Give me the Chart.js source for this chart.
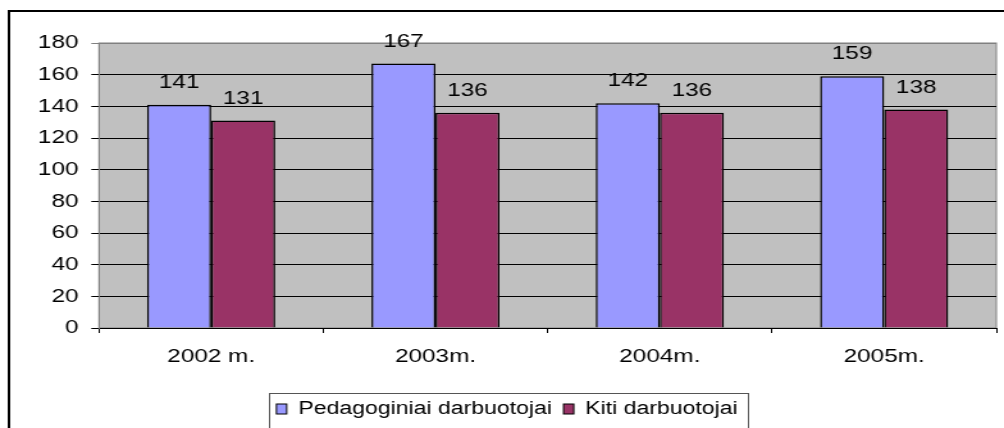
<!DOCTYPE html>
<html><head><meta charset="utf-8">
<script src="https://cdn.jsdelivr.net/npm/chart.js@4/dist/chart.umd.min.js"></script>
<style>html,body{margin:0;padding:0;background:#fff;overflow:hidden}
canvas{display:block}</style></head>
<body><canvas id="c" width="784" height="428" style="width:1004px;height:428px"></canvas>
<script>
const categories = ['2002 m.', '2003m.', '2004m.', '2005m.'];
const pedagoginiai = [141, 167, 142, 159];
const kiti = [131, 136, 136, 138];
const seriesNames = ['Pedagoginiai darbuotojai', 'Kiti darbuotojai'];
const seriesColors = ['#9999ff', '#993366'];
const yMin = 0, yMax = 180, yStep = 20;

const FONT = '"Liberation Sans", Arial, sans-serif';

const decor = {
  id: 'decor',
  beforeDraw(chart) {
    const {ctx, chartArea: a} = chart;
    ctx.save();
    ctx.fillStyle = '#c0c0c0';
    ctx.fillRect(a.left, a.top, a.right - a.left, a.bottom - a.top);
    ctx.strokeStyle = '#808080';
    ctx.lineWidth = 1;
    ctx.strokeRect(a.left, a.top, a.right - a.left, a.bottom - a.top);
    ctx.restore();
  },
  afterDatasetsDraw(chart) {
    const ctx = chart.ctx;
    ctx.save();
    ctx.font = '19px ' + FONT;
    ctx.fillStyle = '#000';
    ctx.textAlign = 'center';
    ctx.textBaseline = 'middle';
    chart.data.datasets.forEach((ds, i) => {
      chart.getDatasetMeta(i).data.forEach((el, j) => {
        ctx.fillText(String(ds.data[j]), el.x, el.y - 22);
      });
    });
    ctx.restore();
  },
  afterDraw(chart) {
    const ctx = chart.ctx;
    ctx.save();
    // outer frame
    ctx.strokeStyle = '#000';
    ctx.lineWidth = 2;
    ctx.beginPath();
    ctx.moveTo(7, 430); ctx.lineTo(7, 11); ctx.lineTo(790, 11);
    ctx.stroke();
    // legend
    ctx.font = '18px ' + FONT;
    const sq = 8, gap = 9, padL = 6, padR = 8;
    const ds = chart.data.datasets;
    let total = padL + padR;
    ds.forEach((d, i) => {
      total += sq + gap + ctx.measureText(d.label).width;
      if (i < ds.length - 1) total += gap;
    });
    const cx = 397;
    let x = cx - total / 2;
    const top = 393, yMid = 409;
    ctx.strokeStyle = '#555';
    ctx.lineWidth = 1;
    ctx.fillStyle = '#fff';
    ctx.fillRect(x, top, total, 40);
    ctx.strokeRect(Math.round(x) + 0.5, top + 0.5, Math.round(total), 40);
    x += padL;
    ctx.textBaseline = 'middle';
    ctx.textAlign = 'left';
    ds.forEach((d, i) => {
      ctx.fillStyle = d.backgroundColor;
      ctx.fillRect(x, yMid - 5, sq, 10);
      ctx.strokeStyle = '#000';
      ctx.strokeRect(x, yMid - 5, sq, 10);
      x += sq + gap;
      ctx.fillStyle = '#000';
      ctx.fillText(d.label, x, yMid);
      x += ctx.measureText(d.label).width + gap;
    });
    ctx.restore();
  }
};

new Chart(document.getElementById('c'), {
  type: 'bar',
  data: {
    labels: categories,
    datasets: [
      {label: seriesNames[0], data: pedagoginiai, backgroundColor: seriesColors[0], borderColor: '#000', borderWidth: 1.5},
      {label: seriesNames[1], data: kiti, backgroundColor: seriesColors[1], borderColor: '#000', borderWidth: 1.5}
    ]
  },
  options: {
    responsive: false,
    animation: false,
    devicePixelRatio: 1,
    layout: {padding: {top: 43, right: 6, left: 0, bottom: 0}},
    datasets: {bar: {categoryPercentage: 0.571, barPercentage: 1.0}},
    plugins: {legend: {display: false}, tooltip: {enabled: false}},
    scales: {
      x: {
        grid: {display: true, drawOnChartArea: false, drawTicks: true, tickLength: 5, color: '#000'},
        border: {display: true, color: '#000', width: 1},
        ticks: {font: {size: 19, family: FONT}, color: '#000', padding: 12, maxRotation: 0},
        afterFit(s) { s.height = 100; }
      },
      y: {
        min: yMin, max: yMax,
        grid: {color: (c) => (c.tick && c.tick.value === yMax) ? '#808080' : '#000', lineWidth: 1, tickLength: 6, drawTicks: true},
        border: {display: true, color: '#808080', width: 1},
        ticks: {stepSize: yStep, font: {size: 19, family: FONT}, color: '#000', padding: 10},
        afterFit(s) { s.width = 77.3; }
      }
    }
  },
  plugins: [decor]
});
</script>
</body></html>
